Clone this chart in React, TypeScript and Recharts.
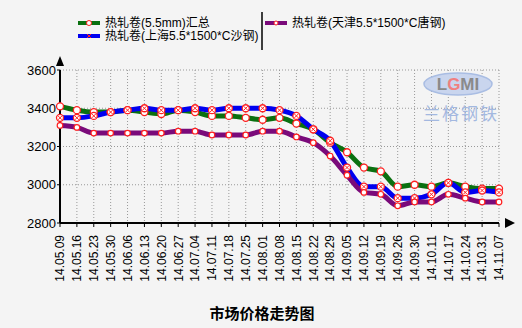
import { LineChart, Line, XAxis, YAxis, CartesianGrid } from "recharts";

const dates = [
  "14.05.09", "14.05.16", "14.05.23", "14.05.30", "14.06.06", "14.06.13", "14.06.20",
  "14.06.27", "14.07.04", "14.07.11", "14.07.18", "14.07.25", "14.08.01", "14.08.08",
  "14.08.15", "14.08.22", "14.08.29", "14.09.05", "14.09.12", "14.09.19", "14.09.26",
  "14.09.30", "14.10.11", "14.10.17", "14.10.24", "14.10.31", "14.11.07",
];

const totalSeries = [
  3410, 3390, 3380, 3380, 3390, 3380, 3370, 3390, 3380, 3360, 3360, 3350, 3340, 3350,
  3320, 3290, 3220, 3170, 3090, 3070, 2990, 3000, 2990, 3010, 2990, 2980, 2980,
];
const shanghaiSeries = [
  3350, 3350, 3360, 3380, 3390, 3400, 3390, 3390, 3400, 3390, 3400, 3400, 3400, 3390,
  3360, 3290, 3230, 3090, 2990, 2990, 2930, 2930, 2950, 3010, 2960, 2970, 2960,
];
const tianjinSeries = [
  3310, 3300, 3270, 3270, 3270, 3270, 3270, 3280, 3280, 3260, 3260, 3260, 3280, 3280,
  3250, 3220, 3150, 3050, 2960, 2950, 2890, 2910, 2910, 2950, 2930, 2910, 2910,
];

const yTicks = [2800, 3000, 3200, 3400, 3600];

const seriesNames = [
  "热轧卷(5.5mm)汇总",
  "热轧卷(上海5.5*1500*C沙钢)",
  "热轧卷(天津5.5*1500*C唐钢)",
];

const rows = dates.map((d, i) => ({
  date: d,
  total: totalSeries[i],
  shanghai: shanghaiSeries[i],
  tianjin: tianjinSeries[i],
}));

const FONT = "'Liberation Sans', Arial, 'Noto Sans CJK SC', sans-serif";

const CircleDot = (props: any) => {
  const { cx, cy } = props;
  if (cx == null || cy == null) return null;
  return <circle cx={cx} cy={cy} r={3.5} fill="#ffffff" stroke="#ff2020" strokeWidth={1.3} />;
};

const CrossDot = (props: any) => {
  const { cx, cy } = props;
  if (cx == null || cy == null) return null;
  return (
    <g>
      <circle cx={cx} cy={cy} r={3.5} fill="#ffffff" stroke="#ff2020" strokeWidth={1.3} />
      <path
        d={`M${cx - 2},${cy - 2}L${cx + 2},${cy + 2}M${cx - 2},${cy + 2}L${cx + 2},${cy - 2}`}
        stroke="#ff2020"
        strokeWidth={1}
      />
    </g>
  );
};

const SmallDot = (props: any) => {
  const { cx, cy } = props;
  if (cx == null || cy == null) return null;
  return <circle cx={cx} cy={cy} r={2.8} fill="#ffffff" stroke="#ff2020" strokeWidth={1.2} />;
};

const DateTick = (props: any) => {
  const { x, y, payload } = props;
  return (
    <g transform={`translate(${x},${y})`}>
      <text
        transform="rotate(-90)"
        textAnchor="end"
        dy="0.36em"
        fontSize={12}
        fontFamily={FONT}
        fill="#000"
      >
        {payload.value}
      </text>
    </g>
  );
};

function LegendItem({ x, y, color, label, dot }: any) {
  return (
    <g>
      <line x1={x} y1={y} x2={x + 22} y2={y} stroke={color} strokeWidth={4} />
      {dot === "circle" && <circle cx={x + 11} cy={y} r={2.5} fill="#fff" stroke="#ff2020" strokeWidth={1} />}
      {dot === "cross" && (
        <path d={`M${x + 9},${y - 2}L${x + 13},${y + 2}M${x + 9},${y + 2}L${x + 13},${y - 2}`} stroke="#ff2020" strokeWidth={1} />
      )}
      {dot === "small" && <circle cx={x + 11} cy={y} r={2} fill="#fff" stroke="#ff2020" strokeWidth={1} />}
      <text x={x + 27} y={y} dy="0.36em" fontSize={12} fontFamily={FONT} fill="#000">
        {label}
      </text>
    </g>
  );
}

export default function App() {
  return (
    <div
      style={{
        position: "absolute",
        left: 0,
        top: 0,
        width: 522,
        height: 328,
        background: "#f4f4f4",
        fontFamily: FONT,
      }}
    >
      <LineChart
        width={522}
        height={328}
        data={rows}
        margin={{ top: 70, right: 23, left: 0, bottom: 0 }}
      >
        <CartesianGrid stroke="#999" strokeDasharray="1 2" vertical horizontal />
        <XAxis
          dataKey="date"
          interval={0}
          height={105}
          tick={<DateTick />}
          tickSize={4}
          tickMargin={8}
          axisLine={{ stroke: "#000", strokeWidth: 2 }}
          tickLine={{ stroke: "#000" }}
        />
        <YAxis
          width={60}
          domain={[2800, 3600]}
          ticks={yTicks}
          interval={0}
          tickSize={3}
          tickMargin={1}
          tick={{ fill: "#000", fontSize: 13, fontFamily: FONT }}
          axisLine={{ stroke: "#000", strokeWidth: 2 }}
          tickLine={{ stroke: "#000" }}
        />
        <Line
          type="monotone"
          dataKey="total"
          stroke="#0a7010"
          strokeWidth={5}
          dot={<CircleDot />}
          isAnimationActive={false}
        />
        <Line
          type="monotone"
          dataKey="shanghai"
          stroke="#0000f0"
          strokeWidth={5}
          dot={<CrossDot />}
          isAnimationActive={false}
        />
        <Line
          type="monotone"
          dataKey="tianjin"
          stroke="#7a0a7a"
          strokeWidth={5}
          dot={<SmallDot />}
          isAnimationActive={false}
        />
      </LineChart>
      <svg
        width={522}
        height={328}
        style={{ position: "absolute", left: 0, top: 0, pointerEvents: "none" }}
      >
        {/* legend */}
        <LegendItem x={78} y={23} color="#0a7010" label={seriesNames[0]} dot="circle" />
        <LegendItem x={78} y={36} color="#0000f0" label={seriesNames[1]} dot="cross" />
        <LegendItem x={265} y={23} color="#7a0a7a" label={seriesNames[2]} dot="small" />
        <line x1={262} y1={12} x2={262} y2={50} stroke="#000" strokeWidth={1.5} />
        {/* axis arrows */}
        <path d="M60,56L56,66L64,66Z" fill="#000" />
        <path d="M515,223L505,218L505,228Z" fill="#000" />
        {/* watermark */}
        <ellipse cx={458} cy={84} rx={34} ry={11} fill="#c9d5ee" stroke="#a9bde3" strokeWidth={1.5} />
        <text x={458} y={84} dy="0.36em" textAnchor="middle" fontSize={17} fontWeight="bold" fontFamily={FONT} fill="#8a8a8a">
          L<tspan fill="#f08080">G</tspan>MI
        </text>
        <text x={461} y={114} dy="0.36em" textAnchor="middle" fontSize={17} fontFamily="'Noto Sans CJK SC'" fill="#a3b8e0" letterSpacing={2}>
          兰格钢铁
        </text>
        {/* title */}
        <text x={262} y={314} dy="0.36em" textAnchor="middle" fontSize={15} fontWeight="bold" fontFamily={FONT} fill="#000">
          市场价格走势图
        </text>
      </svg>
    </div>
  );
}
